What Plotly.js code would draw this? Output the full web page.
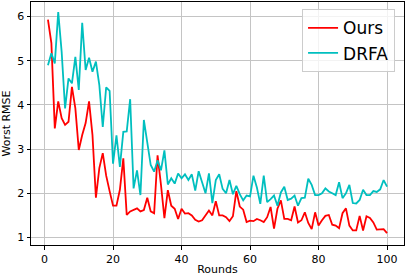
<!DOCTYPE html>
<html>
<head>
<meta charset="utf-8">
<script src="https://cdn.plot.ly/plotly-3.0.1.min.js"></script>
<style>
html,body{margin:0;padding:0;background:#fff;}
#chart{width:406px;height:276px;}
</style>
</head>
<body>
<div id="chart"></div>
<script>
const rounds = Array.from({length: 100}, (_, i) => i + 1);
const oursValues = [
5.93,5.4,3.47,4.08,3.7,3.55,3.62,4.41,3.92,2.98,
3.32,3.59,4.08,3.32,1.9,2.57,2.91,2.4,2.05,1.72,
1.72,2.08,2.79,1.51,1.59,1.62,1.66,1.59,1.62,1.9,
1.59,1.55,2.86,2.19,1.44,2.07,1.72,1.65,1.42,1.65,
1.54,1.55,1.5,1.4,1.36,1.39,1.5,1.61,1.5,1.82,
1.5,1.5,1.46,1.37,1.48,2.05,1.7,1.63,1.35,1.38,
1.37,1.42,1.39,1.35,1.46,1.69,1.2,1.65,1.84,1.42,
1.42,1.39,1.7,1.34,1.39,1.57,1.33,1.19,1.57,1.27,
1.39,1.49,1.51,1.29,1.27,1.21,1.55,1.66,1.27,1.16,
1.16,1.49,1.16,1.48,1.44,1.34,1.18,1.19,1.19,1.1
];
const drfaValues = [
4.9,5.17,4.94,6.1,5.2,3.92,4.6,4.49,5.09,4.34,
5.86,4.79,5.07,4.75,4.98,4.45,3.5,4.4,4.32,2.67,
3.31,2.6,3.39,3.4,4.13,2.11,2.52,1.96,3.66,3.09,
2.64,2.49,2.75,2.52,2.97,2.2,2.34,2.22,2.45,2.34,
2.43,2.3,2.43,2.06,2.5,2.25,2.0,2.45,1.78,2.3,
2.43,2.1,2.0,2.3,1.98,2.17,1.98,1.84,1.95,1.93,
2.4,2.13,1.76,2.4,1.8,1.87,1.95,1.72,2.02,2.15,
1.85,1.88,1.95,1.72,1.89,1.9,2.33,2.19,1.96,1.96,
2.0,2.11,2.04,2.0,1.96,2.25,1.89,2.0,2.19,1.78,
1.77,1.85,2.08,1.96,1.96,2.05,2.03,2.09,2.3,2.15
];
const xTicks = [0, 20, 40, 60, 80, 100];
const yTicks = [1, 2, 3, 4, 5, 6];
const seriesNames = ['Ours', 'DRFA'];
const xLabel = 'Rounds';
const yLabel = 'Worst RMSE';

const font = {family: 'DejaVu Sans, sans-serif', size: 11, color: '#000'};
const traces = [
  {x: rounds, y: oursValues, name: seriesNames[0], type: 'scatter', mode: 'lines',
   line: {color: '#ff0000', width: 1.8}},
  {x: rounds, y: drfaValues, name: seriesNames[1], type: 'scatter', mode: 'lines',
   line: {color: '#00bfbf', width: 1.8}}
];
const axisCommon = {
  showline: true, mirror: true, linecolor: '#000', linewidth: 1,
  showgrid: true, gridcolor: '#c4c4c4', gridwidth: 1,
  zeroline: false, ticks: 'outside', ticklen: 3.5, tickwidth: 1, tickcolor: '#000',
  tickfont: font
};
const layout = {
  width: 406, height: 276,
  margin: {l: 31, r: 2, t: 2, b: 31},
  paper_bgcolor: '#fff', plot_bgcolor: '#fff',
  font: font,
  showlegend: true,
  legend: {
    x: 0.976, y: 0.97, xanchor: 'right', yanchor: 'top',
    bgcolor: 'rgba(255,255,255,0.8)', bordercolor: '#cccccc', borderwidth: 1,
    font: {family: 'DejaVu Sans, sans-serif', size: 17, color: '#000'},
    tracegroupgap: 0
  },
  xaxis: Object.assign({}, axisCommon, {
    range: [-3.95, 104.95], tickvals: xTicks, ticktext: xTicks.map(String),
    title: {text: xLabel, font: font, standoff: 4}
  }),
  yaxis: Object.assign({}, axisCommon, {
    range: [0.83, 6.33], tickvals: yTicks, ticktext: yTicks.map(String),
    title: {text: yLabel, font: font, standoff: 6}
  })
};
Plotly.newPlot('chart', traces, layout, {displayModeBar: false, staticPlot: true});
</script>
</body>
</html>
